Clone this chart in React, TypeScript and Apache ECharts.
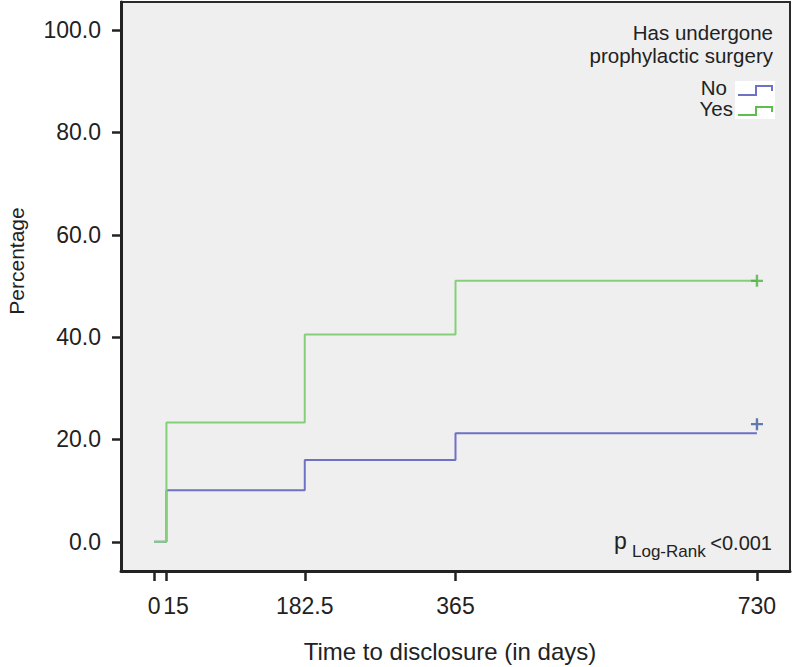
import React, { useEffect, useRef } from "react";
import * as echarts from "echarts";

const xTicks = [0, 15, 182.5, 365, 730];
const yTicks = [0, 20, 40, 60, 80, 100];
const noSeries: [number, number][] = [
  [0, 0],
  [15, 10.1],
  [182.5, 16.0],
  [365, 21.2],
  [730, 21.2],
];
const yesSeries: [number, number][] = [
  [0, 0],
  [15, 23.3],
  [182.5, 40.5],
  [365, 51.0],
  [730, 51.0],
];
const noCensored: [number, number][] = [[730, 23.0]];
const yesCensored: [number, number][] = [[730, 51.0]];

const FONT = "'Liberation Sans', Arial, Helvetica, sans-serif";
const PLUS =
  "path://M-1,-5L1,-5L1,-1L5,-1L5,1L1,1L1,5L-1,5L-1,1L-5,1L-5,-1L-1,-1Z";

export default function App() {
  const ref = useRef<HTMLDivElement>(null);
  useEffect(() => {
    if (!ref.current) return;
    const chart = echarts.init(ref.current, null, { renderer: "svg" });
    const blue = "#6e72c4";
    const green = "#86cf7a";
    chart.setOption({
      animation: false,
      textStyle: { fontFamily: FONT },
      grid: {
        left: 121,
        right: 2,
        top: 2,
        bottom: 96,
        show: true,
        backgroundColor: "#efefef",
        borderColor: "#2a2a2a",
        borderWidth: 2,
      },
      xAxis: {
        type: "value",
        min: -40,
        max: 770,
        axisLine: { show: true, onZero: false, lineStyle: { color: "#222", width: 3 } },
        axisTick: {
          show: true,
          customValues: xTicks,
          length: 10,
          lineStyle: { color: "#222", width: 2.5 },
        },
        axisLabel: {
          customValues: xTicks,
          margin: 23,
          fontSize: 23,
          color: "#222",
          fontFamily: FONT,
          hideOverlap: false,
          formatter: (v: number) => (v === 15 ? "{s|15}" : String(v)),
          rich: { s: { padding: [0, 0, 0, 19], fontSize: 23, color: "#222", fontFamily: FONT } },
        },
        splitLine: { show: false },
      },
      yAxis: {
        type: "value",
        min: -5.7,
        max: 105.5,
        axisLine: { show: true, onZero: false, lineStyle: { color: "#222", width: 3 } },
        axisTick: {
          show: true,
          customValues: yTicks,
          length: 9,
          lineStyle: { color: "#222", width: 2.5 },
        },
        axisLabel: {
          customValues: yTicks,
          margin: 20,
          fontSize: 23,
          color: "#222",
          fontFamily: FONT,
          formatter: (v: number) => v.toFixed(1),
        },
        splitLine: { show: false },
      },
      series: [
        {
          type: "line",
          name: "No",
          step: "end",
          data: noSeries,
          symbol: "none",
          lineStyle: { color: blue, width: 2 },
          z: 2,
        },
        {
          type: "line",
          name: "Yes",
          step: "end",
          data: yesSeries,
          symbol: "none",
          lineStyle: { color: green, width: 2 },
          z: 3,
        },
        {
          type: "scatter",
          data: noCensored,
          symbol: PLUS,
          symbolSize: 12,
          itemStyle: { color: "#3d5c9e" },
          z: 4,
        },
        {
          type: "scatter",
          data: yesCensored,
          symbol: PLUS,
          symbolSize: 12,
          itemStyle: { color: "#4cb03e" },
          z: 4,
        },
      ],
      graphic: [
        {
          type: "text",
          x: 16,
          y: 261,
          rotation: Math.PI / 2,
          style: {
            text: "Percentage",
            fontSize: 21,
            fontFamily: FONT,
            fill: "#222",
            align: "center",
            verticalAlign: "middle",
          },
        },
        {
          type: "text",
          x: 450,
          y: 651,
          style: {
            text: "Time to disclosure (in days)",
            fontSize: 24,
            fontFamily: FONT,
            fill: "#222",
            align: "center",
            verticalAlign: "middle",
          },
        },
        {
          type: "text",
          x: 773,
          y: 32,
          style: {
            text: "Has undergone",
            fontSize: 20.5,
            fontFamily: FONT,
            fill: "#222",
            align: "right",
            verticalAlign: "middle",
          },
        },
        {
          type: "text",
          x: 773,
          y: 55,
          style: {
            text: "prophylactic surgery",
            fontSize: 20.5,
            fontFamily: FONT,
            fill: "#222",
            align: "right",
            verticalAlign: "middle",
          },
        },
        {
          type: "text",
          x: 727,
          y: 87,
          style: {
            text: "No",
            fontSize: 20.5,
            fontFamily: FONT,
            fill: "#222",
            align: "right",
            verticalAlign: "middle",
          },
        },
        {
          type: "text",
          x: 733,
          y: 108,
          style: {
            text: "Yes",
            fontSize: 20.5,
            fontFamily: FONT,
            fill: "#222",
            align: "right",
            verticalAlign: "middle",
          },
        },
        {
          type: "rect",
          shape: { x: 735, y: 81, width: 40, height: 38 },
          style: { fill: "#ffffff" },
        },
        {
          type: "polyline",
          shape: { points: [[738, 95], [756, 95], [756, 86], [772, 86], [772, 91]] },
          style: { stroke: blue, lineWidth: 2, fill: null },
        },
        {
          type: "polyline",
          shape: { points: [[738, 115], [756, 115], [756, 107], [772, 107], [772, 112]] },
          style: { stroke: "#5cbf4a", lineWidth: 2, fill: null },
        },
        {
          type: "text",
          x: 614,
          y: 541,
          style: {
            text: "p",
            fontSize: 23,
            fontFamily: FONT,
            fill: "#222",
            align: "left",
            verticalAlign: "middle",
          },
        },
        {
          type: "text",
          x: 632,
          y: 551,
          style: {
            text: "Log-Rank",
            fontSize: 17,
            fontFamily: FONT,
            fill: "#222",
            align: "left",
            verticalAlign: "middle",
          },
        },
        {
          type: "text",
          x: 772,
          y: 543,
          style: {
            text: "<0.001",
            fontSize: 20,
            fontFamily: FONT,
            fill: "#222",
            align: "right",
            verticalAlign: "middle",
          },
        },
      ],
    });
    return () => chart.dispose();
  }, []);
  return (
    <div
      ref={ref}
      style={{ width: 792, height: 667, position: "absolute", left: 0, top: 0, background: "#fff" }}
    />
  );
}
